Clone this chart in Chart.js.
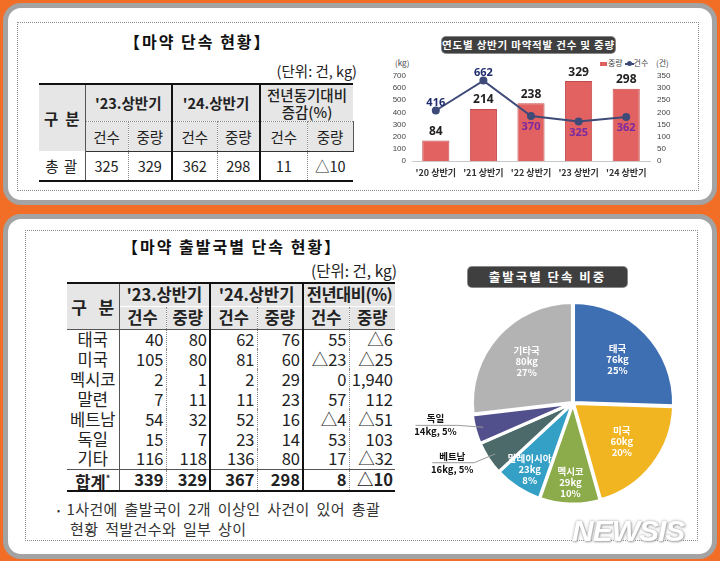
<!DOCTYPE html>
<html><head><meta charset="utf-8">
<script src="https://cdn.jsdelivr.net/npm/chart.js@4/dist/chart.umd.min.js"></script>
<style>
*{box-sizing:border-box;}
html,body{margin:0;padding:0;}
body{width:720px;height:561px;background:#f26d25;position:relative;overflow:hidden;font-family:"Noto Sans CJK KR","Noto Sans",sans-serif;color:#222;}
.panel{position:absolute;background:#fff;border:5px solid #a3a3a3;border-radius:18px;}
.dots{position:absolute;border:1px dotted #8a8a8a;}
.abs{position:absolute;white-space:nowrap;}
.ttl{font-weight:bold;font-size:16px;letter-spacing:2px;color:#111;}
.unit{font-size:14.5px;color:#222;}
.darkbox{position:absolute;background:#3f3f3f;color:#fff;font-weight:bold;border-radius:4px;text-align:center;box-shadow:0 0 0 1px #888;}
table{border-collapse:collapse;table-layout:fixed;position:absolute;}
td{padding:0;text-align:center;vertical-align:middle;overflow:hidden;white-space:nowrap;}
#t1 td{font-size:14.5px;line-height:15px;}
#t2 td{font-size:16.5px;line-height:17px;}
.hd{background:#e6e6e6;}
.b{font-weight:bold;}
.num{text-align:right;padding-right:2px;}
</style></head>
<body>
<div class="panel" style="left:3px;top:3px;width:714px;height:202px;"></div>
<div class="panel" style="left:3px;top:214px;width:714px;height:345px;"></div>
<div class="dots" style="left:17px;top:22px;width:682px;height:169px;"></div>
<div class="dots" style="left:25px;top:230px;width:673px;height:311px;"></div>

<div class="abs ttl" style="left:124px;top:29px;">【마약 단속 현황】</div>
<div class="abs unit" style="right:363px;top:60px;">(단위: 건, kg)</div>
<table id="t1" style="left:39px;top:83px;width:314px;"></table>

<div class="darkbox" style="left:442px;top:37px;width:173px;height:16px;font-size:10.5px;line-height:16px;letter-spacing:0.8px;">연도별 상반기 마약적발 건수 및 중량</div>
<div class="abs" style="left:395px;top:57px;font-size:8px;color:#444;">(kg)</div>
<div class="abs" style="left:656px;top:57px;font-size:8px;color:#444;">(건)</div>
<div class="abs" style="left:600px;top:57px;font-size:8px;color:#444;"><span style="display:inline-block;width:7px;height:4px;background:#e06060;vertical-align:middle;margin-right:1px;"></span>중량 <span style="display:inline-block;width:9px;height:2px;background:#3e4a78;vertical-align:middle;position:relative;"><span style="position:absolute;left:2px;top:-2px;width:5px;height:5px;border-radius:50%;background:#3e4a78;"></span></span>건수</div>
<div class="abs" style="left:370px;top:30px;width:320px;height:160px;"><canvas id="bar" width="320" height="160"></canvas></div>

<div class="abs ttl" style="left:122px;top:234px;">【마약 출발국별 단속 현황】</div>
<div class="abs unit" style="right:323px;top:259px;font-size:15.5px;">(단위: 건, kg)</div>
<table id="t2" style="left:67px;top:282px;width:328px;"></table>
<div class="abs" style="left:57px;top:500px;font-size:15px;color:#333;letter-spacing:0.4px;word-spacing:3px;line-height:18px;">
<span style="font-size:9px;vertical-align:middle;margin-right:6px;">•</span>1사건에 출발국이 2개 이상인 사건이 있어 총괄<br><span style="margin-left:13px;">현황 적발건수와 일부 상이</span></div>

<div class="darkbox" style="left:468px;top:267px;width:159px;height:20px;font-size:12.5px;line-height:20px;letter-spacing:2px;">출발국별 단속 비중</div>
<div class="abs" style="left:403px;top:288px;width:340px;height:230px;"><canvas id="pie" width="340" height="230"></canvas></div>

<div class="abs" style="left:572px;top:514px;font-family:'Liberation Sans',Arial,sans-serif;font-weight:bold;font-style:italic;font-size:30px;letter-spacing:-1px;color:#fff;text-shadow:0 0 3px #999,1px 1px 2px #aaa;opacity:0.95;">NEWSIS</div>

<script>
// ---------- data ----------
const years = ["'20 상반기","'21 상반기","'22 상반기","'23 상반기","'24 상반기"];
const weightKg = [84,214,238,329,298];
const caseCount = [416,662,370,325,362];

const summaryHead = ["'23.상반기","'24.상반기"];
const summaryRow = ['325','329','362','298','11','△10'];

const countries = ['태국','미국','멕시코','말련','베트남','독일','기타'];
const cases23 = ['40','105','2','7','54','15','116'];
const weight23 = ['80','80','1','11','32','7','118'];
const cases24 = ['62','81','2','11','52','23','136'];
const weight24 = ['76','60','29','23','16','14','80'];
const caseChange = ['55','△23','0','57','△4','53','17'];
const weightChange = ['△6','△25','1,940','112','△51','103','△32'];
const totalRow = ['339','329','367','298','8','△10'];

const pieLabels = ['태국','미국','멕시코','말레이시아','베트남','독일','기타국'];
const pieKg = [76,60,29,23,16,14,80];
const piePct = [25,20,10,8,5,5,27];
const pieColors = ['#3f6fb3','#f1b522','#8cab4a','#35a0c6','#4c6a6a','#514f8c','#b3b3b3'];

// ---------- tables ----------
const thick='2px solid #111', thin='1px solid #555', dot='1px dotted #888';
function cell(tr,txt,cls,style,attrs){const td=document.createElement('td');td.innerHTML=txt;if(cls)td.className=cls;if(style)td.setAttribute('style',style);if(attrs)for(const k in attrs)td.setAttribute(k,attrs[k]);tr.appendChild(td);return td;}
(function(){
  const t=document.getElementById('t1');
  const cg=document.createElement('colgroup');[46,43,44,45,43,47,46].forEach(w=>{const c=document.createElement('col');c.style.width=w+'px';cg.appendChild(c);});t.appendChild(cg);
  let r=t.insertRow();r.style.height='37px';
  cell(r,'구&nbsp;&nbsp;분','hd b',`border-top:${thick};border-right:${thin};font-size:15.5px;`,{rowspan:2});
  cell(r,summaryHead[0],'hd b',`border-top:${thick};border-right:${thin};border-bottom:${dot};`,{colspan:2});
  cell(r,summaryHead[1],'hd b',`border:${thick};border-bottom:${dot};`,{colspan:2});
  cell(r,'전년동기대비<br>증감(%)','hd',`border-top:${thick};border-bottom:${dot};line-height:17px;font-weight:500;`,{colspan:2});
  r=t.insertRow();r.style.height='30px';
  ['건수','중량','건수','중량','건수','중량'].forEach((s,i)=>{
    let st=`border-bottom:1.5px solid #333;`;
    st+= (i%2===0)?`border-right:${dot};`:`border-right:${thin};`;
    if(i===2)st+=`border-left:${thick};`; if(i===3)st+=`border-right:${thick};`;
    cell(r,s,'hd',st);
  });
  r=t.insertRow();r.style.height='30px';
  cell(r,'총&nbsp;괄','',`border-bottom:${thick};border-right:${thin};letter-spacing:1px;`);
  summaryRow.forEach((s,i)=>{
    let st=`border-bottom:${thick};`;
    st+= (i%2===0)?`border-right:${dot};`:`border-right:${thin};`;
    if(i===2)st+=`border-left:${thick};`; if(i===3)st+=`border-right:${thick};`;
    if(i===5)st+='border-right:none;';
    cell(r,s,'',st);
  });
})();
(function(){
  const t=document.getElementById('t2');
  const cg=document.createElement('colgroup');[52,47,44,47,46,46,46].forEach(w=>{const c=document.createElement('col');c.style.width=w+'px';cg.appendChild(c);});t.appendChild(cg);
  let r=t.insertRow();r.style.height='23px';
  cell(r,'구&nbsp;&nbsp;&nbsp;분','hd b',`border-top:${thick};border-right:${thin};border-bottom:${thin};font-size:17px;`,{rowspan:2});
  cell(r,"'23.상반기",'hd b',`border-top:${thick};border-right:${thin};`,{colspan:2});
  cell(r,"'24.상반기",'hd b',`border:${thick};border-bottom:none;`,{colspan:2});
  cell(r,'전년대비(%)','hd b',`border-top:${thick};letter-spacing:-0.5px;`,{colspan:2});
  r=t.insertRow();r.style.height='23px';
  ['건수','중량','건수','중량','건수','중량'].forEach((s,i)=>{
    let st=`border-bottom:${thin};border-top:1px solid #fff;`;
    st+= (i%2===0)?`border-right:${dot};`:`border-right:${thin};`;
    if(i===2)st+=`border-left:${thick};`; if(i===3)st+=`border-right:${thick};`;
    if(i===5)st+='border-right:none;';
    cell(r,s,'hd b',st);
  });
  const cols=[cases23,weight23,cases24,weight24,caseChange,weightChange];
  countries.forEach((c,k)=>{
    r=t.insertRow();r.style.height='20px';
    cell(r,c,'',`border-right:${thin};`);
    cols.forEach((arr,i)=>{
      let st= (i%2===0)?`border-right:${dot};`:`border-right:${thin};`;
      if(i===2)st+=`border-left:${thick};`; if(i===3)st+=`border-right:${thick};`;
      if(i===5)st+='border-right:none;';
      cell(r,arr[k],'num',st);
    });
  });
  r=t.insertRow();r.style.height='21px';
  cell(r,'합계<sup style="font-size:9px;">*</sup>','b',`border-top:${thin};border-bottom:${thick};border-right:${thin};`);
  totalRow.forEach((s,i)=>{
    let st=`border-top:${thin};border-bottom:${thick};`;
    st+= (i%2===0)?`border-right:${dot};`:`border-right:${thin};`;
    if(i===2)st+=`border-left:${thick};`; if(i===3)st+=`border-right:${thick};`;
    if(i===5)st+='border-right:none;';
    cell(r,s,'num b',st);
  });
})();

// ---------- combo chart ----------
const comboLabels={id:'comboLabels',afterDatasetsDraw(chart){
  const ctx=chart.ctx, line=chart.getDatasetMeta(0), bars=chart.getDatasetMeta(1);
  ctx.save();ctx.textAlign='center';ctx.textBaseline='middle';
  ctx.font='bold 12px "Noto Sans","DejaVu Sans",sans-serif';ctx.fillStyle='#222';
  bars.data.forEach((el,i)=>ctx.fillText(weightKg[i],el.x,el.y-9));
  ctx.font='bold 11px "Noto Sans","DejaVu Sans",sans-serif';
  line.data.forEach((pt,i)=>{
    const below=pt.y>bars.data[i].y;
    ctx.fillStyle=below?'#7a2aa0':'#1f2d6e';
    ctx.fillText(caseCount[i],pt.x,below?pt.y+11:pt.y-8);
  });
  ctx.restore();
}};
new Chart(document.getElementById('bar'),{
  data:{labels:years,datasets:[
    {type:'line',label:'건수',data:caseCount,yAxisID:'yL',borderColor:'#3e4a78',backgroundColor:'#3e4a78',borderWidth:2,pointRadius:3,pointHoverRadius:3,order:0,tension:0},
    {type:'bar',label:'중량',data:weightKg,yAxisID:'yR',backgroundColor:'#e26161',borderColor:'#c44b4b',borderWidth:1,barPercentage:0.57,categoryPercentage:1,order:1}
  ]},
  options:{responsive:false,animation:false,maintainAspectRatio:false,
    layout:{padding:{top:46,bottom:4,left:0,right:0}},
    plugins:{legend:{display:false},tooltip:{enabled:false}},
    scales:{
      x:{grid:{display:false,drawTicks:false},border:{color:'#c8c8c8'},ticks:{autoSkip:false,font:{size:9,weight:'bold',family:'"Noto Sans CJK KR",sans-serif'},color:'#333',padding:6,maxRotation:0},afterFit(s){s.height=25;}},
      yL:{position:'left',min:0,max:700,ticks:{autoSkip:false,stepSize:100,font:{size:8},color:'#444',padding:6},grid:{display:false,drawTicks:false},border:{display:false},afterFit(s){s.width=42;}},
      yR:{position:'right',min:0,max:350,ticks:{autoSkip:false,stepSize:50,font:{size:8},color:'#444',padding:7},grid:{display:false,drawTicks:false},border:{display:false},afterFit(s){s.width=40;}}
    }
  },
  plugins:[comboLabels]
});

// ---------- pie ----------
const pieLabelPlugin={id:'pieLabels',afterDatasetsDraw(chart){
  const ctx=chart.ctx, meta=chart.getDatasetMeta(0);
  ctx.save();ctx.textAlign='center';ctx.textBaseline='middle';
  meta.data.forEach((arc,i)=>{
    const p=arc.getProps(['x','y','startAngle','endAngle','outerRadius'],true);
    const mid=(p.startAngle+p.endAngle)/2, span=p.endAngle-p.startAngle;
    const dx=Math.cos(mid), dy=Math.sin(mid), r=p.outerRadius;
    if(span>0.4){
      const f=span>1?0.62:0.79;
      const cx=p.x+dx*r*f, cy=p.y+dy*r*f;
      ctx.fillStyle='#fff';ctx.font='bold 9.5px "Noto Sans CJK KR",sans-serif';
      ctx.fillText(pieLabels[i],cx,cy-11);
      ctx.fillText(pieKg[i]+'kg',cx,cy);
      ctx.fillText(piePct[i]+'%',cx,cy+11);
    } else {
      const bx=p.x+dx*(r+30)-12, by=p.y+dy*(r+30)-12;
      ctx.fillStyle='#111';ctx.font='bold 9.5px "Noto Sans CJK KR",sans-serif';
      ctx.fillText(pieLabels[i],bx,by-6);
      ctx.fillText(pieKg[i]+'kg, '+piePct[i]+'%',bx,by+7);
      ctx.strokeStyle='#999';ctx.lineWidth=1;
      ctx.beginPath();ctx.moveTo(bx-20,by+0.5);ctx.lineTo(bx+22,by+0.5);
      ctx.lineTo(p.x+dx*r*0.93,p.y+dy*r*0.93);ctx.stroke();
    }
  });
  ctx.restore();
}};
new Chart(document.getElementById('pie'),{
  type:'pie',
  data:{labels:pieLabels,datasets:[{data:pieKg,backgroundColor:pieColors,borderColor:'#fff',borderWidth:3,offset:3,radius:100}]},
  options:{responsive:false,animation:false,plugins:{legend:{display:false},tooltip:{enabled:false}},layout:{padding:0}},
  plugins:[pieLabelPlugin]
});
</script>
</body></html>
